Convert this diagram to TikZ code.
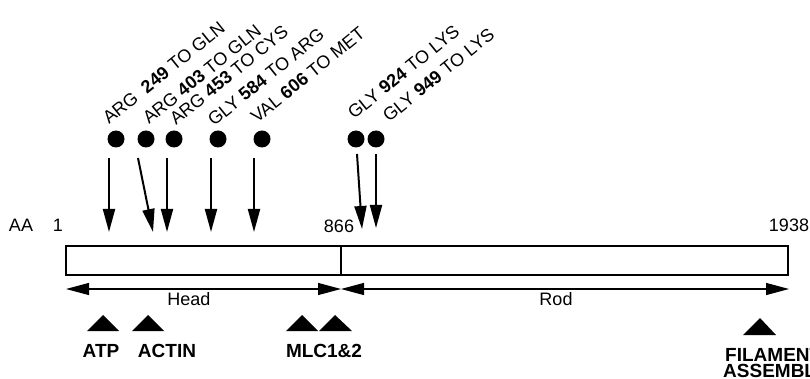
\documentclass[tikz,border=0pt]{standalone}
\usepackage{fontspec}
\setmainfont{Liberation Sans}
\usetikzlibrary{arrows.meta, positioning}

\begin{document}
\begin{tikzpicture}[
    x=1pt, y=-1pt,
    txt/.style={inner sep=0pt, font=\fontsize{18}{21}\selectfont},
    mut/.style={txt, anchor=base west, rotate=39},
    site/.style={txt, anchor=base, font=\fontsize{19}{21}\selectfont\bfseries},
    dot/.style={circle, fill, inner sep=0pt, minimum size=17pt},
    hit/.style={line width=2pt, -{Triangle[length=23pt, width=12pt]}},
    span/.style={line width=1.2pt, {Triangle[length=23pt, width=12pt]}-{Triangle[length=23pt, width=12pt]}},
    bindmark/.style={fill=black}
]
    \useasboundingbox (0,0) rectangle (810,379);

    % --- mutations ---
    \node[dot] (d1) at (116,139) {};
    \node[dot] (d2) at (146,139) {};
    \node[dot] (d3) at (174,139) {};
    \node[dot] (d4) at (218,139) {};
    \node[dot] (d5) at (262,139) {};
    \node[dot] (d6) at (356,139) {};
    \node[dot] (d7) at (376,139) {};
    \node[mut] (m1) at (109,125) {ARG\ \ \textbf{249} TO GLN};
    \node[mut] (m2) at (149,125) {ARG \textbf{403} TO GLN};
    \node[mut] (m3) at (176,126) {ARG \textbf{453} TO CYS};
    \node[mut] (m4) at (214,127) {GLY \textbf{584} TO ARG};
    \node[mut] (m5) at (257,124) {VAL \textbf{606} TO MET};
    \node[mut] (m6) at (354,120) {GLY \textbf{924} TO LYS};
    \node[mut] (m7) at (389,123) {GLY \textbf{949} TO LYS};

    % --- arrows onto the chain ---
    \coordinate (s1) at (109,158); \coordinate (t1) at (109,232);
    \coordinate (s2) at (138,158); \coordinate (t2) at (153,232);
    \coordinate (s3) at (167,158); \coordinate (t3) at (167,232);
    \coordinate (s4) at (211,158); \coordinate (t4) at (211,232);
    \coordinate (s5) at (254,158); \coordinate (t5) at (254,232);
    \coordinate (s6) at (357,154); \coordinate (t6) at (362,229);
    \coordinate (s7) at (376,154); \coordinate (t7) at (376,228);
    \draw[hit] (s1) -- (t1);
    \draw[hit] (s2) -- (t2);
    \draw[hit] (s3) -- (t3);
    \draw[hit] (s4) -- (t4);
    \draw[hit] (s5) -- (t5);
    \draw[hit] (s6) -- (t6);
    \draw[hit] (s7) -- (t7);

    % --- residue numbers ---
    \node[txt, anchor=base] (aa) at (21,232) {AA};
    \node[txt, anchor=base] (n1) at (58,232) {1};
    \node[txt, anchor=base] (n866) at (339,233) {866};
    \node[txt, anchor=base] (n1938) at (789,232) {1938};

    % --- heavy chain ---
    \draw[line width=1.5pt] (66,246) rectangle (788,275);
    \draw[line width=1.5pt] (341,246) -- (341,275);

    % --- domains ---
    \coordinate (hl) at (66,289);
    \coordinate (hr) at (341,289);
    \coordinate (rr) at (789,289);
    \draw[span] (hl) -- (hr);
    \draw[span] (hr) -- (rr);
    \node[txt, anchor=base] (head) at (189,305) {Head};
    \node[txt, anchor=base] (rod) at (556,305) {Rod};

    % --- binding sites ---
    \fill[bindmark] (87,331) -- (103,315) -- (119,331) -- cycle;
    \fill[bindmark] (132,331) -- (148,315) -- (164,331) -- cycle;
    \fill[bindmark] (286,331) -- (302,315) -- (318,331) -- cycle;
    \fill[bindmark] (319,331) -- (335,315) -- (352,331) -- cycle;
    \fill[bindmark] (743,335) -- (760,318) -- (776,335) -- cycle;
    \node[site] (atp) at (101,357) {ATP};
    \node[site] (actin) at (167,357) {ACTIN};
    \node[site] (mlc) at (324,357) {MLC1\&2};
    \node[site, anchor=base west] (fil) at (725,361) {FILAMENT};
    \node[site, anchor=base west] (asm) at (723,377) {ASSEMBLY};
\end{tikzpicture}
\end{document}
